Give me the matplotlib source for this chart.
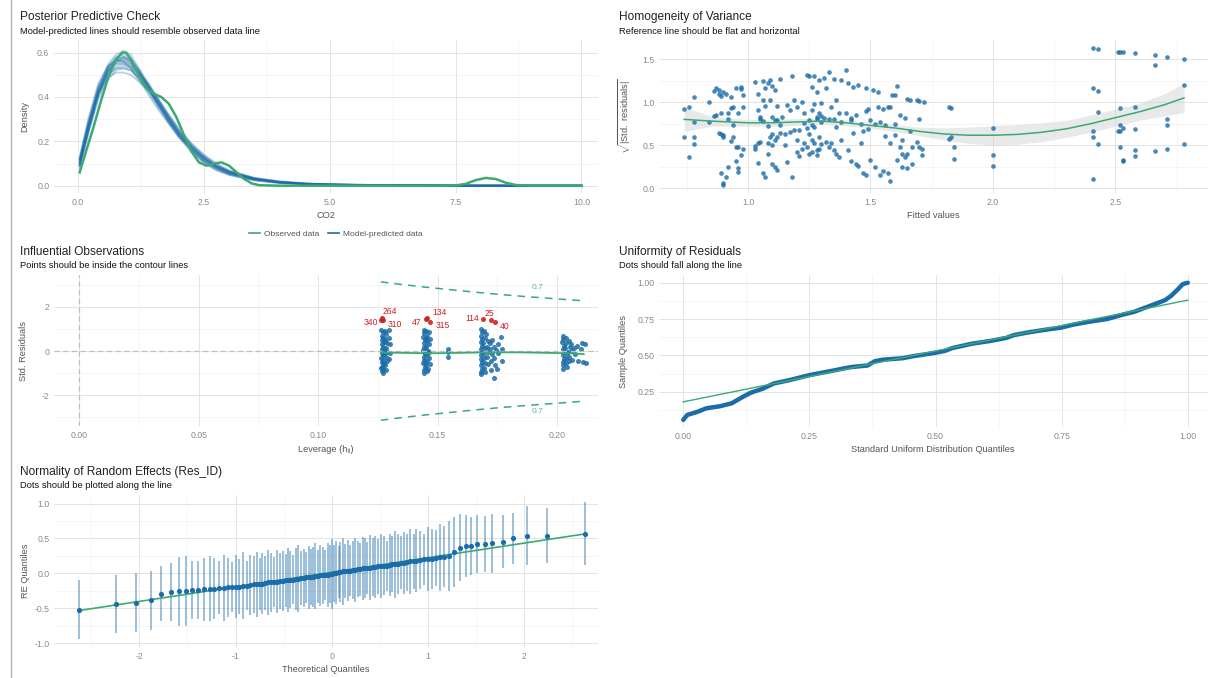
import matplotlib
matplotlib.use("Agg")
import numpy as np
import matplotlib.pyplot as plt
from matplotlib.ticker import MultipleLocator, FormatStrFormatter
from matplotlib.lines import Line2D

plt.rcParams['font.family'] = ['Liberation Sans', 'DejaVu Sans']
plt.rcParams['mathtext.fontset'] = 'custom'
plt.rcParams['mathtext.rm'] = 'Liberation Sans'
plt.rcParams['mathtext.it'] = 'Liberation Sans:italic'
plt.rcParams['axes.unicode_minus'] = False

# --- Posterior predictive check ---
ppc_x = [0.03, 0.2, 0.4, 0.6, 0.75, 0.9, 1.05, 1.2, 1.4, 1.6, 1.8, 2.0, 2.25,
         2.5, 2.75, 3.0, 3.5, 4.0, 4.5, 5.0, 6.0, 7.0, 8.0, 9.0, 10.0]
ppc_sims = [
    [0.10, 0.26, 0.42, 0.53, 0.57, 0.58, 0.56, 0.51, 0.44, 0.37, 0.30, 0.24, 0.17, 0.12, 0.085, 0.06, 0.03, 0.016, 0.009, 0.005, 0.002, 0.001, 0, 0, 0],
    [0.12, 0.29, 0.45, 0.55, 0.59, 0.61, 0.59, 0.53, 0.45, 0.37, 0.29, 0.22, 0.15, 0.10, 0.07, 0.05, 0.025, 0.012, 0.007, 0.004, 0.002, 0.001, 0, 0, 0],
    [0.09, 0.24, 0.39, 0.48, 0.52, 0.53, 0.52, 0.48, 0.43, 0.37, 0.31, 0.25, 0.19, 0.14, 0.10, 0.07, 0.035, 0.018, 0.01, 0.006, 0.003, 0.001, 0, 0, 0],
    [0.11, 0.27, 0.43, 0.52, 0.55, 0.55, 0.53, 0.49, 0.43, 0.36, 0.30, 0.24, 0.18, 0.13, 0.09, 0.065, 0.032, 0.017, 0.009, 0.005, 0.002, 0.001, 0, 0, 0],
    [0.08, 0.23, 0.40, 0.51, 0.56, 0.57, 0.55, 0.50, 0.42, 0.35, 0.28, 0.22, 0.16, 0.11, 0.08, 0.055, 0.028, 0.014, 0.008, 0.004, 0.002, 0.001, 0, 0, 0],
    [0.10, 0.25, 0.41, 0.50, 0.53, 0.54, 0.53, 0.50, 0.45, 0.39, 0.32, 0.25, 0.18, 0.12, 0.08, 0.055, 0.03, 0.016, 0.009, 0.005, 0.003, 0.001, 0, 0, 0],
    [0.13, 0.30, 0.46, 0.54, 0.57, 0.56, 0.53, 0.48, 0.41, 0.34, 0.28, 0.22, 0.17, 0.125, 0.09, 0.065, 0.035, 0.02, 0.011, 0.006, 0.003, 0.001, 0, 0, 0],
    [0.09, 0.25, 0.43, 0.54, 0.58, 0.59, 0.57, 0.52, 0.44, 0.36, 0.29, 0.23, 0.16, 0.11, 0.075, 0.05, 0.025, 0.013, 0.007, 0.004, 0.002, 0.001, 0, 0, 0],
    [0.11, 0.26, 0.41, 0.49, 0.51, 0.51, 0.50, 0.47, 0.43, 0.38, 0.32, 0.26, 0.19, 0.135, 0.095, 0.065, 0.034, 0.018, 0.01, 0.006, 0.003, 0.001, 0, 0, 0],
    [0.10, 0.27, 0.44, 0.54, 0.56, 0.56, 0.54, 0.51, 0.46, 0.39, 0.31, 0.23, 0.16, 0.11, 0.08, 0.058, 0.03, 0.015, 0.008, 0.005, 0.002, 0.001, 0, 0, 0],
    [0.12, 0.28, 0.43, 0.52, 0.56, 0.58, 0.57, 0.53, 0.46, 0.38, 0.30, 0.23, 0.16, 0.105, 0.07, 0.048, 0.024, 0.012, 0.007, 0.004, 0.002, 0.001, 0, 0, 0],
    [0.09, 0.24, 0.41, 0.52, 0.55, 0.56, 0.55, 0.52, 0.45, 0.37, 0.30, 0.24, 0.18, 0.13, 0.09, 0.06, 0.03, 0.015, 0.008, 0.005, 0.002, 0.001, 0, 0, 0],
    [0.10, 0.28, 0.44, 0.53, 0.56, 0.57, 0.56, 0.52, 0.44, 0.36, 0.29, 0.23, 0.17, 0.12, 0.085, 0.06, 0.03, 0.015, 0.008, 0.005, 0.002, 0.001, 0, 0, 0],
    [0.11, 0.26, 0.42, 0.51, 0.54, 0.55, 0.54, 0.51, 0.45, 0.38, 0.31, 0.24, 0.17, 0.12, 0.085, 0.06, 0.03, 0.016, 0.009, 0.005, 0.002, 0.001, 0, 0, 0],
    [0.09, 0.25, 0.42, 0.53, 0.57, 0.58, 0.56, 0.51, 0.43, 0.36, 0.29, 0.23, 0.17, 0.12, 0.08, 0.055, 0.028, 0.014, 0.008, 0.004, 0.002, 0.001, 0, 0, 0],
    [0.12, 0.27, 0.42, 0.50, 0.53, 0.53, 0.52, 0.49, 0.44, 0.38, 0.31, 0.25, 0.18, 0.13, 0.09, 0.065, 0.033, 0.017, 0.009, 0.005, 0.002, 0.001, 0, 0, 0],
]
obs_x = [0.03, 0.15, 0.3, 0.45, 0.6, 0.75, 0.88, 0.95, 1.05, 1.2,
         1.35, 1.5, 1.65, 1.8, 1.95, 2.1, 2.25, 2.4, 2.55, 2.7,
         2.85, 3.0, 3.15, 3.3, 3.45, 3.6, 4.0, 5.0, 6.0, 7.0,
         7.5, 7.7, 7.9, 8.1, 8.3, 8.5, 8.7, 9.0, 10.0]
obs_y = [0.06, 0.15, 0.26, 0.38, 0.49, 0.57, 0.60, 0.60, 0.57, 0.50,
         0.44, 0.415, 0.40, 0.37, 0.31, 0.23, 0.155, 0.105, 0.09, 0.10,
         0.105, 0.09, 0.06, 0.03, 0.01, 0.002, 0, 0, 0, 0,
         0.001, 0.008, 0.025, 0.035, 0.03, 0.013, 0.003, 0, 0]

# --- Homogeneity of variance ---
hv_x = [0.74, 0.74, 0.76, 0.76, 0.78, 0.78, 0.78, 0.78, 0.84, 0.84,
        0.86, 0.87, 0.87, 0.88, 0.88, 0.89, 0.89, 0.89, 0.9, 0.9,
        0.9, 0.9, 0.91, 0.92, 0.9, 0.91, 0.88, 0.92, 0.89, 0.86,
        0.93, 0.93, 0.94, 0.94, 0.95, 0.95, 0.96, 0.96, 0.97, 0.97,
        0.98, 0.98, 0.96, 0.97, 0.95, 0.94, 0.93, 0.98, 0.92, 0.96,
        1.03, 1.03, 1.04, 1.04, 1.04, 1.05, 1.05, 1.06, 1.06, 1.06,
        1.07, 1.07, 1.08, 1.08, 1.05, 1.04, 1.07, 1.03, 1.08, 1.06,
        1.09, 1.09, 1.1, 1.1, 1.1, 1.11, 1.11, 1.11, 1.12, 1.12,
        1.09, 1.1, 1.12, 1.11, 1.13, 1.13, 1.08, 1.13, 1.12, 1.1,
        1.14, 1.15, 1.15, 1.16, 1.17, 1.17, 1.18, 1.18, 1.19, 1.2,
        1.2, 1.21, 1.21, 1.22, 1.22, 1.16, 1.19, 1.2, 1.23, 1.23,
        1.24, 1.24, 1.25, 1.25, 1.25, 1.25, 1.26, 1.26, 1.26, 1.26,
        1.27, 1.27, 1.27, 1.27, 1.28, 1.28, 1.28, 1.28, 1.29, 1.29,
        1.29, 1.29, 1.3, 1.3, 1.3, 1.24, 1.23, 1.26, 1.28, 1.3,
        1.31, 1.31, 1.32, 1.32, 1.33, 1.33, 1.33, 1.34, 1.34, 1.35,
        1.35, 1.35, 1.36, 1.36, 1.36, 1.37, 1.37, 1.38, 1.38, 1.38,
        1.4, 1.4, 1.41, 1.41, 1.42, 1.42, 1.43, 1.43, 1.44, 1.44,
        1.45, 1.45, 1.46, 1.46, 1.47, 1.47, 1.48, 1.48, 1.48, 1.42,
        1.49, 1.49, 1.5, 1.5, 1.51, 1.52, 1.52, 1.53, 1.53, 1.54,
        1.54, 1.55, 1.55, 1.56, 1.56, 1.57, 1.57, 1.58, 1.58, 1.58,
        1.59, 1.6, 1.6, 1.61, 1.61, 1.62, 1.62, 1.63, 1.63, 1.64,
        1.64, 1.65, 1.65, 1.65, 1.66, 1.66, 1.67, 1.67, 1.6, 1.63,
        1.69, 1.7, 1.7, 1.7, 1.71, 1.71, 1.69, 1.72,
        1.82, 1.83, 1.82, 1.83, 1.84, 1.84, 2.0, 2.0, 2.0,
        2.41, 2.41, 2.41, 2.41, 2.41, 2.43, 2.43, 2.43, 2.43,
        2.51, 2.52, 2.53, 2.52, 2.52, 2.51, 2.52, 2.53, 2.52, 2.53,
        2.53, 2.58, 2.58, 2.58, 2.58, 2.58, 2.66, 2.66, 2.66, 2.71,
        2.71, 2.71, 2.71, 2.78, 2.78, 2.78]
hv_y = [0.92, 0.59, 0.95, 0.36, 1.06, 0.77, 0.6, 0.51, 1.0, 0.77,
        1.13, 1.16, 0.85, 1.09, 0.64, 1.07, 0.87, 0.17, 0.62, 0.59,
        0.06, 0.03, 0.13, 0.25, 1.12, 1.1, 1.14, 0.88, 0.63, 0.84,
        1.06, 0.93, 0.73, 0.6, 0.48, 0.32, 0.23, 0.19, 1.18, 1.15,
        1.08, 0.94, 0.48, 0.38, 1.16, 0.95, 0.55, 0.45, 0.8, 0.88,
        1.23, 0.49, 1.1, 0.91, 0.29, 0.83, 0.54, 1.25, 1.02, 0.17,
        1.17, 0.13, 1.22, 0.52, 0.8, 0.52, 0.96, 0.45, 0.72, 0.78,
        1.26, 0.6, 1.19, 0.83, 0.28, 1.14, 0.79, 0.25, 0.59, 0.21,
        1.02, 0.63, 0.96, 0.56, 1.27, 0.74, 0.4, 0.64, 0.79, 0.5,
        0.83, 0.63, 0.5, 0.3, 0.91, 0.65, 1.3, 0.13, 1.02, 0.42,
        0.94, 0.68, 0.37, 0.46, 1.0, 0.97, 0.68, 0.56, 0.76, 0.88,
        1.32, 0.48, 1.3, 0.79, 0.63, 0.4, 1.18, 0.91, 0.56, 0.42,
        1.3, 0.98, 0.71, 0.52, 1.12, 0.83, 0.44, 0.38, 1.26, 0.87,
        0.6, 0.46, 0.99, 0.77, 0.51, 0.7, 0.53, 0.73, 0.81, 0.84,
        1.28, 0.82, 1.16, 0.54, 1.35, 0.81, 0.48, 0.95, 0.52, 1.27,
        0.8, 0.44, 1.02, 0.71, 0.4, 0.87, 0.36, 1.26, 0.77, 0.56,
        1.38, 0.87, 1.22, 0.44, 0.79, 0.32, 1.18, 0.64, 0.85, 0.28,
        1.2, 0.26, 0.75, 0.52, 0.67, 0.17, 1.16, 0.9, 0.15, 0.82,
        0.92, 0.69, 0.79, 0.33, 1.14, 0.75, 0.25, 1.12, 0.94, 0.15,
        0.77, 0.92, 0.2, 0.61, 0.74, 0.95, 0.17, 0.08, 0.95, 0.52,
        1.08, 1.08, 0.62, 1.19, 0.33, 0.85, 0.48, 0.4, 0.56, 0.36,
        0.82, 1.04, 0.23, 0.4, 0.67, 1.02, 0.28, 0.48, 0.75, 0.25,
        1.02, 1.01, 0.81, 0.48, 0.46, 0.38, 0.54, 1.0,
        0.94, 0.93, 0.57, 0.6, 0.48, 0.34, 0.7, 0.38, 0.26,
        1.63, 1.17, 0.67, 0.6, 0.1, 1.62, 1.13, 0.89, 0.51,
        1.59, 1.59, 1.58, 0.93, 0.73, 0.66, 0.67, 0.7, 0.48, 0.33,
        0.32, 1.57, 0.94, 0.69, 0.44, 0.37, 1.55, 1.43, 0.43, 1.53,
        0.8, 0.74, 0.46, 1.5, 1.2, 0.51]
loess_x = [0.74, 0.85, 1.0, 1.1, 1.2, 1.3, 1.4, 1.5, 1.6, 1.7,
           1.8, 1.9, 2.0, 2.1, 2.2, 2.3, 2.4, 2.5, 2.6, 2.7, 2.78]
loess_y = [0.80, 0.78, 0.76, 0.76, 0.77, 0.78, 0.76, 0.73, 0.70, 0.66,
           0.63, 0.615, 0.615, 0.625, 0.65, 0.69, 0.75, 0.82, 0.89, 0.97, 1.05]
loess_lo = [0.66, 0.72, 0.72, 0.72, 0.73, 0.745, 0.725, 0.695, 0.66, 0.61,
            0.56, 0.52, 0.5, 0.51, 0.54, 0.59, 0.65, 0.72, 0.79, 0.84, 0.88]
loess_hi = [0.94, 0.84, 0.80, 0.80, 0.81, 0.815, 0.795, 0.765, 0.74, 0.71,
            0.70, 0.71, 0.73, 0.74, 0.76, 0.79, 0.85, 0.92, 0.99, 1.1, 1.22]

# --- Influential observations ---
lev_x = [0.1265, 0.127, 0.1268, 0.1272, 0.1266, 0.1275, 0.1268, 0.127, 0.1266, 0.1274,
         0.1268, 0.127, 0.1265, 0.1272, 0.1268, 0.127, 0.1266, 0.1273, 0.1267, 0.127,
         0.1282, 0.1285, 0.128, 0.1288, 0.1283, 0.129, 0.1284, 0.1287, 0.128, 0.1283,
         0.1295, 0.1298, 0.1302, 0.13, 0.1296, 0.1278, 0.1276, 0.1279, 0.1277, 0.1262,
         0.1442, 0.1445, 0.144, 0.1447, 0.1442, 0.1445, 0.144, 0.1447, 0.1442, 0.1445,
         0.144, 0.1447, 0.1442, 0.1445, 0.1452, 0.1455, 0.1458, 0.1452, 0.146, 0.1455,
         0.1458, 0.1452, 0.1456, 0.1465, 0.1468, 0.1463, 0.1466, 0.1464, 0.1467, 0.1462,
         0.145, 0.1449, 0.1451, 0.1448, 0.1542, 0.1542, 0.1543,
         0.1682, 0.1685, 0.168, 0.1688, 0.1683, 0.1686, 0.1681, 0.1687, 0.1684, 0.168,
         0.1688, 0.1683, 0.1686, 0.1682, 0.1684, 0.1695, 0.1698, 0.1692, 0.17, 0.1696,
         0.1693, 0.1699, 0.1694, 0.1697, 0.1705, 0.171, 0.1708, 0.1712, 0.1706, 0.1711,
         0.1735, 0.1718, 0.172, 0.1722, 0.1725, 0.1728, 0.173, 0.1735, 0.1738, 0.174,
         0.1745, 0.1748, 0.1752, 0.1755, 0.1765, 0.1768, 0.177,
         0.2025, 0.2027, 0.2023, 0.203, 0.2025, 0.2028, 0.2024, 0.2029, 0.2025, 0.2027,
         0.2024, 0.2037, 0.204, 0.2035, 0.2041, 0.2036, 0.2039, 0.2043, 0.205, 0.2053,
         0.2048, 0.2052, 0.2049, 0.206, 0.2063, 0.2065, 0.207, 0.2075, 0.2083, 0.209,
         0.21, 0.2105, 0.211, 0.2122, 0.2118]
lev_y = [0.95, 0.85, 0.7, 0.6, 0.5, 0.4, 0.3, 0.2, 0.1, 0.0,
         -0.1, -0.2, -0.3, -0.4, -0.5, -0.6, -0.7, -0.8, -0.9, -1.0,
         0.9, 0.75, 0.55, 0.35, 0.15, -0.05, -0.25, -0.45, -0.65, -0.85,
         0.95, 0.6, 0.3, -0.1, -0.35, 0.05, -0.15, 0.45, -0.55, -0.75,
         0.95, 0.8, 0.65, 0.5, 0.35, 0.2, 0.05, -0.1, -0.25, -0.4,
         -0.55, -0.7, -0.85, -1.0, 0.9, 0.7, 0.45, 0.25, 0.0, -0.2,
         -0.45, -0.65, -0.9, 0.85, 0.55, 0.3, -0.05, -0.3, -0.6, -0.8,
         0.1, -0.15, 0.6, -0.5, 0.1, -0.05, -0.25,
         1.0, 0.85, 0.7, 0.55, 0.4, 0.25, 0.1, -0.05, -0.2, -0.35,
         -0.5, -0.65, -0.8, -0.95, -1.05, 0.9, 0.6, 0.35, 0.15, -0.1,
         -0.3, -0.55, -0.75, -0.95, 0.75, 0.45, 0.2, -0.05, -0.25, -0.6,
         -1.2, 0.35, 0.1, -0.45, -0.85, 0.5, -0.15, 0.2, -0.3, -0.65,
         0.05, -0.8, -0.1, 0.3, 0.65, -0.45, 0.1,
         0.7, 0.55, 0.4, 0.25, 0.1, -0.05, -0.2, -0.35, -0.5, -0.65,
         -0.8, 0.6, 0.35, 0.15, -0.1, -0.3, -0.55, -0.7, 0.45, 0.2,
         -0.05, -0.25, -0.45, 0.3, 0.05, -0.4, 0.15, -0.15, 0.25, -0.45,
         0.1, 0.35, -0.5, -0.55, 0.3]
infl_x = [0.1268, 0.1265, 0.1272, 0.1452, 0.1458, 0.1469, 0.1692, 0.1726, 0.1739]
infl_y = [1.50, 1.42, 1.40, 1.45, 1.50, 1.30, 1.46, 1.40, 1.33]
infl_id = ['264', '340', '310', '47', '134', '315', '114', '25', '40']
infl_lab_x = [0.1300, 0.1219, 0.1320, 0.1413, 0.1508, 0.1520, 0.1644, 0.1719, 0.1782]
infl_lab_y = [1.81, 1.27, 1.21, 1.28, 1.74, 1.16, 1.49, 1.72, 1.12]
cook_h = [0.1262, 0.135, 0.145, 0.155, 0.165, 0.175, 0.185, 0.195, 0.205, 0.2112]
cook_up = [3.13, 3.01, 2.89, 2.78, 2.67, 2.57, 2.48, 2.40, 2.32, 2.27]
cook_dn = [-3.13, -3.01, -2.89, -2.78, -2.67, -2.57, -2.48, -2.40, -2.32, -2.27]
lev_fit_x = [0.1262, 0.135, 0.145, 0.155, 0.165, 0.175, 0.185, 0.195, 0.205, 0.2112]
lev_fit_y = [-0.06, -0.08, -0.1, -0.09, -0.07, -0.06, -0.06, -0.08, -0.1, -0.14]

# --- Uniformity of residuals ---
qq_x = [0.0, 0.008, 0.027, 0.046, 0.073, 0.096, 0.119, 0.134, 0.157, 0.18,
        0.211, 0.25, 0.303, 0.318, 0.334, 0.365, 0.38, 0.395, 0.434, 0.457,
        0.495, 0.518, 0.533, 0.572, 0.61, 0.64, 0.656, 0.687, 0.725, 0.748,
        0.771, 0.802, 0.84, 0.871, 0.894, 0.917, 0.94, 0.955, 0.967, 0.979,
        0.99, 1.0]
qq_y = [0.056, 0.09, 0.11, 0.136, 0.15, 0.17, 0.216, 0.243, 0.27, 0.307,
        0.33, 0.364, 0.399, 0.41, 0.42, 0.43, 0.46, 0.47, 0.48, 0.495,
        0.515, 0.53, 0.55, 0.58, 0.6, 0.62, 0.64, 0.66, 0.68, 0.69,
        0.71, 0.73, 0.75, 0.78, 0.8, 0.83, 0.86, 0.88, 0.91, 0.95,
        0.99, 1.0]
qq_ref_x = [0.0, 1.0]
qq_ref_y = [0.18, 0.88]

# --- Normality of random effects ---
re_x = [-2.63, -2.24, -2.03, -1.88, -1.78, -1.67, -1.59, -1.51, -1.45, -1.39, -1.33, -1.27,
        -1.22, -1.17, -1.12, -1.08, -1.04, -1.0, -0.96, -0.92, -0.88, -0.85,
        -0.81, -0.78, -0.75, -0.72, -0.69, -0.66, -0.63, -0.6, -0.57, -0.54,
        -0.51, -0.48, -0.45, -0.43, -0.4, -0.37, -0.35, -0.32, -0.29, -0.27,
        -0.24, -0.22, -0.19, -0.17, -0.14, -0.12, -0.09, -0.07, -0.04, -0.02,
        0.0,
        0.02, 0.04, 0.07, 0.09, 0.12, 0.14, 0.17, 0.19, 0.22, 0.24,
        0.27, 0.29, 0.32, 0.35, 0.37, 0.4, 0.43, 0.45, 0.48, 0.51,
        0.54, 0.57, 0.6, 0.63, 0.66, 0.69, 0.72, 0.75, 0.78, 0.81,
        0.85, 0.88, 0.92, 0.96, 1.0, 1.04, 1.08, 1.12, 1.17, 1.22,
        1.27, 1.33, 1.39, 1.45, 1.51, 1.59, 1.67, 1.78, 1.88, 2.03, 2.24, 2.63]
re_y = [-0.52, -0.44, -0.42, -0.39, -0.29, -0.27, -0.26, -0.25, -0.24, -0.24, -0.23, -0.22,
        -0.22, -0.21, -0.21, -0.2, -0.2, -0.19, -0.19, -0.18, -0.18, -0.17,
        -0.16, -0.16, -0.15, -0.15, -0.14, -0.13, -0.13, -0.12, -0.12, -0.11,
        -0.11, -0.1, -0.1, -0.09, -0.09, -0.08, -0.08, -0.07, -0.07, -0.06,
        -0.06, -0.05, -0.05, -0.04, -0.04, -0.03, -0.03, -0.02, -0.02, -0.01,
        -0.01,
        0.0, 0.01, 0.02, 0.02, 0.03, 0.03, 0.04, 0.04, 0.05, 0.05,
        0.06, 0.06, 0.07, 0.07, 0.08, 0.08, 0.09, 0.09, 0.1, 0.1,
        0.11, 0.11, 0.12, 0.13, 0.13, 0.14, 0.15, 0.15, 0.16, 0.17,
        0.17, 0.18, 0.19, 0.2, 0.21, 0.21, 0.22, 0.23, 0.24, 0.25,
        0.31, 0.37, 0.39, 0.39, 0.42, 0.42, 0.43, 0.45, 0.5, 0.54, 0.54, 0.57]
re_err = [0.42, 0.42, 0.42, 0.42, 0.39, 0.42, 0.5, 0.5, 0.42, 0.42, 0.45, 0.47,
          0.44, 0.38, 0.47, 0.42, 0.36, 0.45, 0.4, 0.48, 0.35, 0.43,
          0.41, 0.46, 0.37, 0.44, 0.39, 0.47, 0.42, 0.36, 0.45, 0.4,
          0.43, 0.38, 0.46, 0.41, 0.35, 0.44, 0.48, 0.39, 0.42, 0.37,
          0.45, 0.4, 0.43, 0.47, 0.38, 0.44, 0.41, 0.36, 0.46, 0.42,
          0.5,
          0.41, 0.45, 0.37, 0.43, 0.48, 0.39, 0.44, 0.36, 0.42, 0.46,
          0.4, 0.38, 0.45, 0.43, 0.37, 0.47, 0.41, 0.44, 0.39, 0.46,
          0.42, 0.36, 0.45, 0.4, 0.48, 0.43, 0.38, 0.44, 0.41, 0.47,
          0.39, 0.45, 0.42, 0.37, 0.46, 0.43, 0.4, 0.48, 0.44, 0.5,
          0.5, 0.48, 0.45, 0.42, 0.42, 0.4, 0.42, 0.38, 0.37, 0.42, 0.39, 0.45]
re_ref_x = [-2.63, 2.63]
re_ref_y = [-0.535, 0.565]

GREEN = '#3aaa72'
BLUE = '#1b6ca8'
RED = '#cd201f'
TICK = '#8a8a8a'
LAB = '#555555'

W, H = 1211, 678
fig = plt.figure(figsize=(W / 100, H / 100), dpi=100)


def panel(l, t, r, b):
    ax = fig.add_axes([l / W, 1 - b / H, (r - l) / W, (b - t) / H])
    for s in ax.spines.values():
        s.set_visible(False)
    ax.tick_params(which='both', length=0, labelsize=6.3, labelcolor=TICK, pad=3.4)
    ax.grid(True, which='major', color='#e4e4e4', lw=0.7)
    ax.grid(True, which='minor', color='#f1f1f1', lw=0.5)
    ax.set_axisbelow(True)
    return ax


def text_px(x, y, s, **kw):
    fig.text(x / W, 1 - y / H, s, **kw)


def titles(x, y, title, sub):
    text_px(x, y, title, fontsize=8.6, color='#222222', va='center')
    text_px(x, y + 14, sub, fontsize=6.75, color='#111111', va='center')


def labels(xl, xpos, ylab, ypos):
    text_px(xpos[0], xpos[1], xl, fontsize=6.7, color=LAB, ha='center', va='center')
    text_px(ypos[0], ypos[1], ylab, fontsize=6.7, color=LAB, ha='center', va='center', rotation=90)


# left border line
fig.add_artist(Line2D([11 / W, 11 / W], [0, 1], color='#b5b5b5', lw=1))

# Panel 1
ax1 = panel(54, 40, 598, 193)
for sim in ppc_sims:
    ax1.plot(ppc_x, sim, color=BLUE, lw=1.3, alpha=0.3)
ax1.plot(obs_x, obs_y, color=GREEN, lw=1.8)
ax1.set_xlim(-0.48, 10.33)
ax1.set_ylim(-0.033, 0.657)
ax1.xaxis.set_major_locator(MultipleLocator(2.5))
ax1.xaxis.set_minor_locator(MultipleLocator(1.25))
ax1.yaxis.set_major_locator(MultipleLocator(0.2))
ax1.yaxis.set_minor_locator(MultipleLocator(0.1))
ax1.yaxis.set_major_formatter(FormatStrFormatter('%.1f'))
titles(20, 17, 'Posterior Predictive Check', 'Model-predicted lines should resemble observed data line')
labels('CO2', (326, 215), 'Density', (25, 116))
handles = [Line2D([], [], color=GREEN, lw=1.2), Line2D([], [], color=BLUE, lw=1.2)]
fig.legend(handles, ['Observed data', 'Model-predicted data'], loc='center',
           bbox_to_anchor=(336 / W, 1 - 234 / H), ncol=2, frameon=False,
           fontsize=6, handlelength=1.3, columnspacing=1.0, handletextpad=0.5,
           labelcolor=LAB)

# Panel 2
ax2 = panel(659, 40, 1208, 193)
ax2.fill_between(loess_x, loess_lo, loess_hi, color='#d0d0d0', alpha=0.45, lw=0)
ax2.scatter(hv_x, hv_y, s=11, color=BLUE, alpha=0.8, linewidths=0)
ax2.plot(loess_x, loess_y, color=GREEN, lw=1.1)
ax2.set_xlim(0.637, 2.878)
ax2.set_ylim(-0.058, 1.725)
for axis in (ax2.xaxis, ax2.yaxis):
    axis.set_major_locator(MultipleLocator(0.5))
    axis.set_minor_locator(MultipleLocator(0.25))
    axis.set_major_formatter(FormatStrFormatter('%.1f'))
titles(619, 17, 'Homogeneity of Variance', 'Reference line should be flat and horizontal')
labels('Fitted values', (933, 215), r'$\sqrt{|\mathrm{Std.\ residuals}|}$', (625, 116))

# Panel 3
ax3 = panel(54, 275, 598, 426)
ax3.axvline(0, color='#bdbdbd', lw=0.9, ls=(0, (4, 3)))
ax3.axhline(0, color='#bdbdbd', lw=0.9, ls=(0, (4, 3)))
ax3.plot(cook_h, cook_up, color=GREEN, lw=1.1, ls=(0, (5, 4)))
ax3.plot(cook_h, cook_dn, color=GREEN, lw=1.1, ls=(0, (5, 4)))
ax3.text(0.192, 2.86, '0.7', color=GREEN, fontsize=6, ha='center', va='center', alpha=0.85)
ax3.text(0.192, -2.72, '0.7', color=GREEN, fontsize=6, ha='center', va='center', alpha=0.85)
ax3.scatter(lev_x, lev_y, s=13, color=BLUE, alpha=0.85, linewidths=0)
ax3.scatter(infl_x, infl_y, s=13, color=RED, alpha=0.9, linewidths=0)
for lx, ly, lab in zip(infl_lab_x, infl_lab_y, infl_id):
    ax3.text(lx, ly, lab, color=RED, fontsize=6.2, ha='center', va='center')
ax3.plot(lev_fit_x, lev_fit_y, color=GREEN, lw=1.3)
ax3.set_xlim(-0.0106, 0.2172)
ax3.set_ylim(-3.39, 3.44)
ax3.xaxis.set_major_locator(MultipleLocator(0.05))
ax3.xaxis.set_minor_locator(MultipleLocator(0.025))
ax3.xaxis.set_major_formatter(FormatStrFormatter('%.2f'))
ax3.yaxis.set_major_locator(MultipleLocator(2))
ax3.yaxis.set_minor_locator(MultipleLocator(1))
titles(20, 252, 'Influential Observations', 'Points should be inside the contour lines')
labels('Leverage (h\u1d62\u1d62)', (326, 450), 'Std. Residuals', (24, 351))

# Panel 4
ax4 = panel(659, 275, 1208, 427)
ax4.plot(qq_x, qq_y, color=BLUE, lw=3.2, solid_capstyle='round', solid_joinstyle='round')
ax4.plot(qq_ref_x, qq_ref_y, color=GREEN, lw=1.0)
ax4.set_xlim(-0.048, 1.04)
ax4.set_ylim(0.007, 1.053)
for axis in (ax4.xaxis, ax4.yaxis):
    axis.set_major_locator(MultipleLocator(0.25))
    axis.set_minor_locator(MultipleLocator(0.125))
    axis.set_major_formatter(FormatStrFormatter('%.2f'))
titles(619, 252, 'Uniformity of Residuals', 'Dots should fall along the line')
labels('Standard Uniform Distribution Quantiles', (933, 450), 'Sample Quantiles', (623, 351))

# Panel 5
ax5 = panel(54, 495, 598, 647)
ax5.errorbar(re_x, re_y, yerr=re_err, fmt='none', ecolor=BLUE, elinewidth=1.1, alpha=0.55, capsize=0)
ax5.plot(re_ref_x, re_ref_y, color=GREEN, lw=1.2)
ax5.scatter(re_x, re_y, s=14, color=BLUE, linewidths=0, zorder=3)
ax5.set_xlim(-2.887, 2.767)
ax5.set_ylim(-1.057, 1.123)
ax5.xaxis.set_major_locator(MultipleLocator(1))
ax5.xaxis.set_minor_locator(MultipleLocator(0.5))
ax5.yaxis.set_major_locator(MultipleLocator(0.5))
ax5.yaxis.set_minor_locator(MultipleLocator(0.25))
ax5.yaxis.set_major_formatter(FormatStrFormatter('%.1f'))
titles(20, 472, 'Normality of Random Effects (Res_ID)', 'Dots should be plotted along the line')
labels('Theoretical Quantiles', (326, 669), 'RE Quantiles', (25, 571))

fig.savefig('out.png', dpi=100, facecolor='white')
